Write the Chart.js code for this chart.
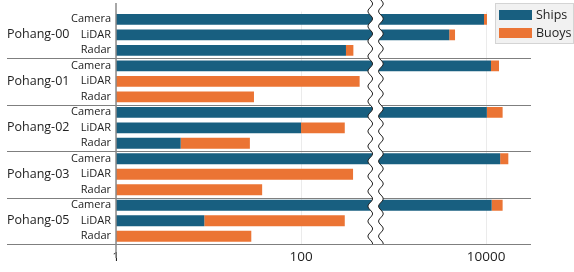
<!DOCTYPE html>
<html>
<head>
<meta charset="utf-8">
<script src="https://cdn.jsdelivr.net/npm/chart.js@4/dist/chart.umd.min.js"></script>
<style>
  html, body { margin: 0; padding: 0; background: #fff; }
  #chart { display: block; }
</style>
</head>
<body>
<canvas id="chart" width="574" height="272"></canvas>
<script>
'use strict';

var groups = ['Pohang-00', 'Pohang-01', 'Pohang-02', 'Pohang-03', 'Pohang-05'];
var sensors = ['Camera', 'LiDAR', 'Radar'];

// one value per row, rows go group by group: Camera, LiDAR, Radar
var ships = [9500, 4000, 306, 11300, 0, 0, 10200, 100, 5, 14200, 0, 0, 11500, 9, 0];
var buoys = [730, 620, 62, 2500, 430, 31, 4900, 197, 23, 3200, 365, 38, 3600, 288, 29];

var xTicks = [1, 100, 10000];
var seriesNames = ['Ships', 'Buoys'];
var seriesColors = ['#185f80', '#eb7434'];

var labels = [];
groups.forEach(function() {
  sensors.forEach(function(s) { labels.push(s); });
});

var FONT = "'Open Sans', 'DejaVu Sans', sans-serif";

function wavyX(x0, y, amp, period) {
  return x0 + amp * Math.sin(2 * Math.PI * y / period);
}

var decorations = {
  id: 'decorations',
  afterDatasetsDraw: function(chart) {
    var c = chart.ctx;
    var area = chart.chartArea;
    var ys = chart.scales.y;
    var xs = chart.scales.x;

    c.save();
    // group separators and bottom line
    c.strokeStyle = '#7f7f7f';
    c.lineWidth = 1;
    for (var g = 1; g <= groups.length; g++) {
      var yy;
      if (g === groups.length) {
        yy = area.bottom;
      } else {
        var i = g * sensors.length;
        yy = (ys.getPixelForValue(i - 1) + ys.getPixelForValue(i)) / 2;
      }
      yy = Math.round(yy) + 0.5;
      c.beginPath();
      c.moveTo(7, yy);
      c.lineTo(area.right, yy);
      c.stroke();
    }

    // y axis line
    c.strokeStyle = '#8a8a8a';
    c.lineWidth = 1.5;
    c.beginPath();
    c.moveTo(area.left, 3);
    c.lineTo(area.left, 258);
    c.stroke();

    // group labels
    c.fillStyle = '#222';
    c.font = '12.5px ' + FONT;
    c.textAlign = 'left';
    c.textBaseline = 'middle';
    groups.forEach(function(name, g) {
      var mid = ys.getPixelForValue(g * sensors.length + 1);
      c.fillText(name, 7, mid);
    });

    // axis break
    var bx0 = xs.getPixelForValue(560);
    var bx1 = xs.getPixelForValue(730);
    var amp = 2.3, period = 15, top = 0, bottom = area.bottom;
    c.beginPath();
    c.moveTo(wavyX(bx0, top, amp, period), top);
    for (var y = top; y <= bottom; y += 1) c.lineTo(wavyX(bx0, y, amp, period), y);
    for (var y2 = bottom; y2 >= top; y2 -= 1) c.lineTo(wavyX(bx1, y2, amp, period), y2);
    c.closePath();
    c.fillStyle = '#fff';
    c.fill();
    c.strokeStyle = '#222';
    c.lineWidth = 1;
    [bx0, bx1].forEach(function(bx) {
      c.beginPath();
      for (var y3 = top; y3 <= bottom; y3 += 1) {
        var px = wavyX(bx, y3, amp, period);
        if (y3 === top) c.moveTo(px, y3); else c.lineTo(px, y3);
      }
      c.stroke();
    });

    // legend
    c.fillStyle = '#f1f1f1';
    c.strokeStyle = '#d4d4d4';
    c.lineWidth = 1;
    c.fillRect(495.5, 3.5, 78, 40);
    c.strokeRect(495.5, 3.5, 78, 40);
    c.font = '12.5px ' + FONT;
    c.textBaseline = 'middle';
    seriesNames.forEach(function(name, k) {
      var ly = 15 + k * 18;
      c.fillStyle = seriesColors[k];
      c.fillRect(499, ly - 5, 33, 10);
      c.fillStyle = '#222';
      c.fillText(name, 536, ly);
    });
    c.restore();
  }
};

new Chart(document.getElementById('chart'), {
  type: 'bar',
  data: {
    labels: labels,
    datasets: [
      { label: seriesNames[0], data: ships, backgroundColor: seriesColors[0] },
      { label: seriesNames[1], data: buoys, backgroundColor: seriesColors[1] }
    ]
  },
  options: {
    indexAxis: 'y',
    responsive: false,
    animation: false,
    categoryPercentage: 1,
    barPercentage: 0.7,
    layout: { padding: { top: 10, right: 43, left: 0, bottom: 0 } },
    plugins: { legend: { display: false }, tooltip: { enabled: false } },
    scales: {
      x: {
        type: 'logarithmic',
        stacked: true,
        min: 1,
        max: 30600,
        afterBuildTicks: function(scale) {
          scale.ticks = xTicks.map(function(v) { return { value: v }; });
        },
        afterFit: function(scale) { scale.height = 28; },
        grid: { color: '#ebebeb', drawTicks: false },
        border: { display: false },
        ticks: {
          color: '#222',
          font: { family: FONT, size: 13.5 },
          padding: 5,
          maxRotation: 0,
          autoSkip: false,
          callback: function(v) { return String(v); }
        }
      },
      y: {
        stacked: true,
        afterFit: function(scale) { scale.width = 116; },
        grid: { display: false, drawTicks: false },
        border: { display: false },
        ticks: {
          color: '#222',
          font: { family: FONT, size: 11 },
          padding: 5,
          autoSkip: false
        }
      }
    }
  },
  plugins: [decorations]
});
</script>
</body>
</html>
